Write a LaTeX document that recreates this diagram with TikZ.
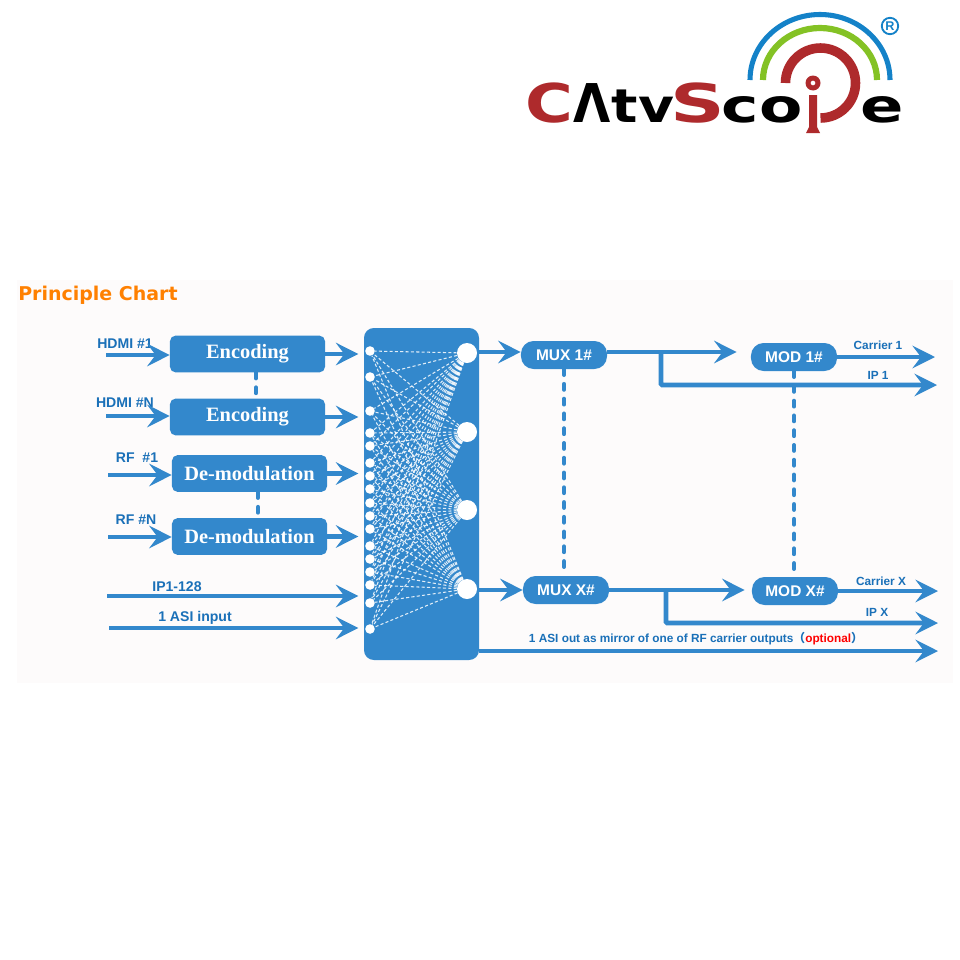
\documentclass[tikz,border=0pt]{standalone}
\usepackage{fontspec}
\setmainfont{Liberation Sans}
\newfontfamily\serifbold{Liberation Serif}
\newfontfamily\titlefont{DejaVu Sans}
\newfontfamily\cjk{Noto Sans CJK SC}
\usetikzlibrary{arrows.meta}
\definecolor{boxblue}{HTML}{3388CC}
\definecolor{textblue}{HTML}{1A70B8}
\definecolor{logored}{HTML}{AE2A2C}
\definecolor{logoblue}{HTML}{1482C8}
\definecolor{logogreen}{HTML}{84C225}
\definecolor{panelbg}{HTML}{FDFBFB}
\begin{document}
\begin{tikzpicture}[
    x=0.025cm, y=-0.025cm,
    flow/.style={draw=boxblue, line width=3.5pt, -{Stealth[length=16pt,width=16pt,inset=6pt]}},
    dots/.style={draw=boxblue, line width=3pt, line cap=round, dash pattern=on 4pt off 6.5pt},
    link/.style={draw=white, opacity=0.85, line width=0.75pt, dash pattern=on 2.2pt off 1.6pt},
    encbox/.style={fill=boxblue, text=white, rounded corners=4pt, minimum width=3.875cm, minimum height=0.92cm, inner sep=0pt, font=\serifbold\fontsize{14.5}{17}\selectfont\bfseries},
    muxbox/.style={fill=boxblue, text=white, rounded corners=9pt, minimum width=2.15cm, minimum height=0.7cm, inner sep=0pt, font=\fontsize{11}{13}\selectfont\bfseries},
    flowlabel/.style={text=textblue, inner sep=0pt, font=\fontsize{10}{12}\selectfont\bfseries},
    outlabel/.style={text=textblue, inner sep=0pt, font=\fontsize{8.4}{10}\selectfont\bfseries},
    logocap/.style={inner sep=0pt, anchor=base, font=\titlefont\bfseries\fontsize{38}{40}\selectfont},
    logolow/.style={inner sep=0pt, anchor=base, font=\titlefont\bfseries\fontsize{33}{35}\selectfont}
]
\useasboundingbox (0,0) rectangle (960,960);
\fill[white] (0,0) rectangle (960,960);
\fill[panelbg] (17,280) rectangle (953,683);

% Logo
\draw[logoblue, line width=3.6pt] (750,80) arc[start angle=180, end angle=360, x radius=70, y radius=65.5];
\draw[logogreen, line width=4.4pt] (763,80) arc[start angle=180, end angle=360, x radius=57, y radius=52];
\draw[logored, line width=6.8pt] (785.5,83) arc[start angle=180, end angle=450, radius=35];
\fill[logored] (809,95) -- (817,95) -- (817,127) -- (820,133) -- (806,133) -- (809,127) -- cycle;
\fill[logored, even odd rule] (813,83) circle[radius=7.5] (813,83) circle[radius=2.5];
\draw[logoblue, line width=1.3pt] (890,26) circle[radius=8.2];
\node[text=logoblue, inner sep=0pt, font=\fontsize{9}{10}\selectfont\bfseries] (regmark) at (890,26) {R};
\node[logocap, text=logored, xscale=1.22] (logoc) at (549,122) {C};
\node[logocap, xscale=0.9] (logoa) at (592,122) {Λ};
\node[logolow, xscale=1.19] (logotv) at (643,122) {tv};
\node[logocap, text=logored, xscale=1.42] (logos) at (698,122) {S};
\node[logolow, xscale=1.36] (logoco) at (762,122) {co};
\node[logolow, xscale=1.38] (logoe) at (882,122) {e};

% Title
\node[anchor=west, inner sep=0pt, text={rgb,255:red,255;green,128;blue,0}, font=\titlefont\bfseries\fontsize{13.5}{15}\selectfont] (title) at (18,295) {Principle Chart};

% Hub
\fill[boxblue] (364,328) [rounded corners=7pt] rectangle (479,660);
\coordinate (hub) at (364,494);
\foreach \i/\yy in {1/351,2/377,3/411,4/433,5/446,6/463,7/476,8/489,9/503,10/516,11/529,12/546,13/559,14/572,15/585,16/603,17/629}
    \node[circle, fill=white, minimum size=0.24cm, inner sep=0pt] (in\i) at (370,\yy) {};
\node[circle, fill=white, minimum size=0.5cm, inner sep=0pt] (out1) at (467,353) {};
\node[circle, fill=white, minimum size=0.5cm, inner sep=0pt] (out2) at (467,432) {};
\node[circle, fill=white, minimum size=0.5cm, inner sep=0pt] (out3) at (467,510) {};
\node[circle, fill=white, minimum size=0.5cm, inner sep=0pt] (out4) at (467,589) {};
\foreach \j in {1,...,4}
    \foreach \i in {1,...,17}
        \draw[link] (out\j) -- (in\i);

% Left side
\node[encbox] (enc1) at (247.5,354) {Encoding};
\node[encbox] (enc2) at (247.5,417) {Encoding};
\node[encbox] (dem1) at (249.5,473.5) {De-modulation};
\node[encbox] (dem2) at (249.5,536.5) {De-modulation};

\node[flowlabel] (hdmi1) at (125,344) {HDMI \#1};
\node[flowlabel] (hdmin) at (125,403) {HDMI \#N};
\node[flowlabel] (rf1)   at (137,458) {RF\ \ \#1};
\node[flowlabel] (rfn)   at (136,520) {RF \#N};
\node[flowlabel] (ipin)  at (177,587) {IP1-128};
\node[flowlabel] (asiin) at (195,618) {1 ASI input};

\coordinate (hdmi1s) at (106,355);
\coordinate (hdmins) at (106,416);
\coordinate (rf1s)   at (108,475);
\coordinate (rfns)   at (108,537);
\coordinate (ipins)  at (107,596);
\coordinate (asiins) at (109,628);

\draw[flow] (hdmi1s) -- (enc1.west |- hdmi1s);
\draw[flow] (hdmins) -- (enc2.west |- hdmins);
\draw[flow] (rf1s) -- (dem1.west |- rf1s);
\draw[flow] (rfns) -- (dem2.west |- rfns);
\draw[flow, shorten >=4pt] (ipins) -- (hub |- ipins);
\draw[flow, shorten >=4pt] (asiins) -- (hub |- asiins);

\draw[flow, shorten >=4pt] (enc1.east) -- (hub |- enc1.east);
\draw[flow, shorten >=4pt] (enc2.east) -- (hub |- enc2.east);
\draw[flow, shorten >=4pt] (dem1.east) -- (hub |- dem1.east);
\draw[flow, shorten >=4pt] (dem2.east) -- (hub |- dem2.east);

\draw[dots] ([xshift=6]enc1.south) -- ([xshift=6]enc2.north);
\draw[dots] ([xshift=6]dem1.south) -- ([xshift=6]dem2.north);

% Right side
\node[muxbox] (mux1) at (564,355) {MUX 1\#};
\node[muxbox] (muxx) at (566,590) {MUX X\#};
\node[muxbox] (mod1) at (794,357) {MOD 1\#};
\node[muxbox] (modx) at (795,591) {MOD X\#};

\coordinate (hub1) at (479,352);
\coordinate (hubx) at (479,590);
\coordinate (hubasi) at (479,651);
\coordinate (car1) at (935,357);
\coordinate (ip1)  at (937,385);
\coordinate (carx) at (938,591);
\coordinate (ipx)  at (938,623);
\coordinate (asiout) at (938,651);
\coordinate (br1) at (661,352);
\coordinate (brx) at (666,590);

\draw[flow] (hub1) -- (mux1.west |- hub1);
\draw[flow] (hubx) -- (muxx.west |- hubx);
\draw[flow] (mux1.east |- br1) -- ([xshift=-10]mod1.west |- br1);
\draw[flow] (muxx.east |- brx) -- ([xshift=-5]modx.west |- brx);
\draw[flow] (mod1.east) -- (car1);
\draw[flow] (modx.east) -- (carx);
\draw[flow, rounded corners=1pt] (br1) -- (br1 |- ip1) -- (ip1);
\draw[flow, rounded corners=1pt] (brx) -- (brx |- ipx) -- (ipx);
\draw[flow] (hubasi) -- (asiout);

\draw[dots] (mux1.south) -- (mux1.south |- muxx.north);
\draw[dots] (mod1.south) -- (mod1.south |- modx.north);

\node[outlabel] (carlab1) at (878,345) {Carrier 1};
\node[outlabel] (iplab1)  at (878,375) {IP 1};
\node[outlabel] (carlabx) at (881,581) {Carrier X};
\node[outlabel] (iplabx)  at (877,612) {IP X};
\node[outlabel] (asilab)  at (696,639) {1 ASI out as mirror of one of RF carrier outputs{\cjk （}\textcolor{red}{optional}{\cjk ）}};
\end{tikzpicture}
\end{document}
